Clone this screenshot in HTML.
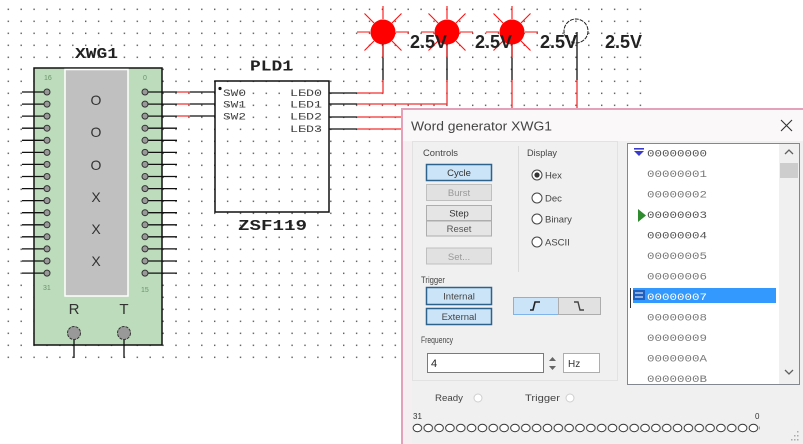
<!DOCTYPE html>
<html><head><meta charset="utf-8"><style>
html,body{margin:0;padding:0;background:#fff;}
svg{display:block;}
</style></head><body>
<svg width="803" height="444" viewBox="0 0 803 444" xmlns="http://www.w3.org/2000/svg" font-family="'Liberation Sans', sans-serif">
<defs>
<pattern id="g" x="7.6" y="8.6" width="12.9" height="12" patternUnits="userSpaceOnUse"><rect width="1.4" height="1.4" fill="#555"/></pattern>
<pattern id="ch" x="412" y="422" width="10.84" height="12" patternUnits="userSpaceOnUse"><ellipse cx="5.4" cy="6" rx="4.3" ry="3.8" fill="#fff" stroke="#333" stroke-width="1"/></pattern>
<g id="pl"><line x1="22" y1="0" x2="44" y2="0" stroke="#111" stroke-width="1.3"/><circle cx="47" cy="0" r="3" fill="#999" stroke="#333" stroke-width="1"/></g>
<g id="pr"><line x1="148" y1="0" x2="177" y2="0" stroke="#111" stroke-width="1.3"/><circle cx="145" cy="0" r="3" fill="#999" stroke="#333" stroke-width="1"/></g>
</defs>
<rect width="803" height="444" fill="#fff"/>
<rect x="0" y="0" width="648" height="362" fill="url(#g)"/>

<!-- XWG1 -->
<text x="75" y="58" font-family="'Liberation Mono', monospace" font-weight="bold" font-size="15" textLength="43" lengthAdjust="spacingAndGlyphs" fill="#222">XWG1</text>
<rect x="34" y="68" width="128" height="277" fill="#bcdcbc" stroke="#111" stroke-width="1.5"/>
<rect x="65" y="69.5" width="63" height="226.5" fill="#c0c0c0" stroke="#fff" stroke-width="1.5"/>
<g font-size="7" fill="#6a946a">
<text x="44" y="80">16</text><text x="143" y="80">0</text>
<text x="43" y="290">31</text><text x="141" y="292">15</text>
</g>
<g font-size="14" fill="#333" text-anchor="middle">
<text x="96" y="105">O</text><text x="96" y="137">O</text><text x="96" y="170">O</text>
<text x="96" y="202">X</text><text x="96" y="234">X</text><text x="96" y="266">X</text>
</g>
<g font-size="15" fill="#333" text-anchor="middle"><text x="74" y="314">R</text><text x="124" y="314">T</text></g>
<line x1="74" y1="339" x2="74" y2="358" stroke="#111" stroke-width="1.3"/>
<line x1="124" y1="339" x2="124" y2="358" stroke="#111" stroke-width="1.3"/>
<circle cx="74" cy="333" r="6.5" fill="#999" stroke="#333" stroke-width="1" stroke-dasharray="3 1"/>
<circle cx="124" cy="333" r="6.5" fill="#999" stroke="#333" stroke-width="1" stroke-dasharray="3 1"/>
<use href="#pl" transform="translate(0,92)"/><use href="#pl" transform="translate(0,104.1)"/><use href="#pl" transform="translate(0,116.1)"/><use href="#pl" transform="translate(0,128.2)"/>
<use href="#pl" transform="translate(0,140.3)"/><use href="#pl" transform="translate(0,152.4)"/><use href="#pl" transform="translate(0,164.4)"/><use href="#pl" transform="translate(0,176.5)"/>
<use href="#pl" transform="translate(0,188.6)"/><use href="#pl" transform="translate(0,200.6)"/><use href="#pl" transform="translate(0,212.7)"/><use href="#pl" transform="translate(0,224.8)"/>
<use href="#pl" transform="translate(0,236.8)"/><use href="#pl" transform="translate(0,248.9)"/><use href="#pl" transform="translate(0,261)"/><use href="#pl" transform="translate(0,273.1)"/>
<use href="#pr" transform="translate(0,92)"/><use href="#pr" transform="translate(0,104.1)"/><use href="#pr" transform="translate(0,116.1)"/><use href="#pr" transform="translate(0,128.2)"/>
<use href="#pr" transform="translate(0,140.3)"/><use href="#pr" transform="translate(0,152.4)"/><use href="#pr" transform="translate(0,164.4)"/><use href="#pr" transform="translate(0,176.5)"/>
<use href="#pr" transform="translate(0,188.6)"/><use href="#pr" transform="translate(0,200.6)"/><use href="#pr" transform="translate(0,212.7)"/><use href="#pr" transform="translate(0,224.8)"/>
<use href="#pr" transform="translate(0,236.8)"/><use href="#pr" transform="translate(0,248.9)"/><use href="#pr" transform="translate(0,261)"/><use href="#pr" transform="translate(0,273.1)"/>

<!-- wires XWG1 -> PLD -->
<g stroke-width="1.3" fill="none">
<path d="M177 92H190M177 104H190M177 116H190" stroke="#f03030"/>
<path d="M190 92H215M190 104H215M190 116H215" stroke="#111"/>
</g>

<!-- PLD1 -->
<text x="250" y="70.5" font-family="'Liberation Mono', monospace" font-weight="bold" font-size="15" textLength="43" lengthAdjust="spacingAndGlyphs" fill="#222">PLD1</text>
<rect x="215" y="81" width="114" height="131" fill="none" stroke="#111" stroke-width="1.5"/>
<text x="238" y="230" font-family="'Liberation Mono', monospace" font-weight="bold" font-size="15" textLength="69" lengthAdjust="spacingAndGlyphs" fill="#222">ZSF119</text>
<circle cx="220" cy="88.5" r="1.6" fill="#111"/>
<g font-family="'Liberation Mono', monospace" font-size="10" fill="#444">
<text x="223" y="96" textLength="23" lengthAdjust="spacingAndGlyphs">SW0</text>
<text x="223" y="107.5" textLength="23" lengthAdjust="spacingAndGlyphs">SW1</text>
<text x="223" y="119.5" textLength="23" lengthAdjust="spacingAndGlyphs">SW2</text>
<text x="290" y="96" textLength="32" lengthAdjust="spacingAndGlyphs">LED0</text>
<text x="290" y="107.5" textLength="32" lengthAdjust="spacingAndGlyphs">LED1</text>
<text x="290" y="119.5" textLength="32" lengthAdjust="spacingAndGlyphs">LED2</text>
<text x="290" y="132" textLength="32" lengthAdjust="spacingAndGlyphs">LED3</text>
</g>

<!-- PLD outputs -->
<g stroke-width="1.3" fill="none">
<path d="M329 93H357M329 104H357M329 117H357M329 129H357" stroke="#111"/>
<path d="M357 93H383V80M357 104H447V80M357 117H402M357 129H402M512 108V80M577 108V80" stroke="#f03030"/>
<path d="M383 80V32M447 80V32M512 80V32M577 80V32" stroke="#111"/>
</g>

<!-- LEDs -->
<g stroke="#ff1010" stroke-width="1.1">
<path d="M383 19V6M383 45V58M370 32H357M396 32H409M374 23L364.5 13.5M392 23L401.5 13.5M374 41L364.5 50.5M392 41L401.5 50.5"/>
<path d="M447 19V6M447 45V58M434 32H421M460 32H473M438 23L428.5 13.5M456 23L465.5 13.5M438 41L428.5 50.5M456 41L465.5 50.5"/>
<path d="M512 19V6M512 45V58M499 32H486M525 32H538M503 23L493.5 13.5M521 23L530.5 13.5M503 41L493.5 50.5M521 41L530.5 50.5"/>
</g>
<circle cx="383" cy="32" r="12.5" fill="#ff0000"/>
<circle cx="447" cy="32" r="12.5" fill="#ff0000"/>
<circle cx="512" cy="32" r="12.5" fill="#ff0000"/>
<circle cx="576" cy="31" r="12" fill="none" stroke="#222" stroke-width="1" stroke-dasharray="4 1"/>
<g font-weight="bold" font-size="18" fill="#222">
<text x="410" y="48" textLength="37" lengthAdjust="spacingAndGlyphs">2.5V</text>
<text x="475" y="48" textLength="37" lengthAdjust="spacingAndGlyphs">2.5V</text>
<text x="540" y="48" textLength="37" lengthAdjust="spacingAndGlyphs">2.5V</text>
<text x="605" y="48" textLength="37" lengthAdjust="spacingAndGlyphs">2.5V</text>
</g>

<!-- Dialog -->
<rect x="402" y="109" width="402" height="336" fill="#f0f0f0" stroke="#e3a2b9" stroke-width="2"/>
<rect x="403" y="110" width="400" height="31" fill="#fbf8f9"/>
<rect x="403" y="141" width="9" height="303" fill="#f6eff2"/>
<text x="411" y="130.5" font-size="12.5" fill="#444" textLength="141" lengthAdjust="spacingAndGlyphs">Word generator XWG1</text>
<path d="M781 120L792 131M792 120L781 131" stroke="#333" stroke-width="1.1"/>

<rect x="412.5" y="141.5" width="205" height="239" fill="#f0f0f0" stroke="#e2e2e2"/>
<line x1="518.5" y1="146" x2="518.5" y2="272" stroke="#dadada"/>

<g font-size="9" fill="#444">
<text x="423" y="156" textLength="35" lengthAdjust="spacingAndGlyphs">Controls</text>
<text x="527" y="156" textLength="30" lengthAdjust="spacingAndGlyphs">Display</text>
<text x="421" y="283" textLength="24" lengthAdjust="spacingAndGlyphs">Trigger</text>
<text x="421" y="343" textLength="32" lengthAdjust="spacingAndGlyphs">Frequency</text>
</g>

<!-- buttons -->
<rect x="426.5" y="164.5" width="65" height="16" fill="#cce4f7" stroke="#2c628b" stroke-width="1.5"/>
<rect x="426.5" y="184.5" width="65" height="16" fill="#e1e1e1" stroke="#bfbfbf"/>
<rect x="426.5" y="205.5" width="65" height="15" fill="#e5e5e5" stroke="#adadad"/>
<rect x="426.5" y="221" width="65" height="15" fill="#e5e5e5" stroke="#adadad"/>
<rect x="426.5" y="248" width="65" height="16" fill="#e1e1e1" stroke="#bfbfbf"/>
<g font-size="9.5" text-anchor="middle">
<text x="459" y="176" fill="#333">Cycle</text>
<text x="459" y="196" fill="#999">Burst</text>
<text x="459" y="216.5" fill="#333">Step</text>
<text x="459" y="232" fill="#555">Reset</text>
<text x="459" y="260" fill="#999">Set...</text>
</g>

<!-- radios -->
<g fill="#fff" stroke="#444" stroke-width="1">
<circle cx="537" cy="175" r="5"/><circle cx="537" cy="198" r="5"/><circle cx="537" cy="219" r="5"/><circle cx="537" cy="242" r="5"/>
</g>
<circle cx="537" cy="175" r="2.6" fill="#333"/>
<g font-size="9.5" fill="#444">
<text x="545" y="178.5">Hex</text><text x="545" y="201.5">Dec</text><text x="545" y="222.5">Binary</text><text x="545" y="245.5">ASCII</text>
</g>

<!-- trigger buttons -->
<rect x="426.5" y="287.5" width="65" height="17" fill="#cce4f7" stroke="#2c628b" stroke-width="1.5"/>
<rect x="426.5" y="308.5" width="65" height="16" fill="#cce4f7" stroke="#2c628b" stroke-width="1.5"/>
<g font-size="9.5" text-anchor="middle" fill="#444">
<text x="459" y="299.5">Internal</text><text x="459" y="320">External</text>
</g>
<rect x="513.5" y="297.5" width="45" height="17" fill="#cce4f7" stroke="#7eb4ea"/>
<rect x="558.5" y="297.5" width="42" height="17" fill="#e1e1e1" stroke="#adadad"/>
<path d="M530 310H533L535 302H540" stroke="#222" stroke-width="1.6" fill="none"/>
<path d="M574 302H578L580 310H584" stroke="#444" stroke-width="1.4" fill="none"/>

<!-- frequency -->
<rect x="427.5" y="353.5" width="116" height="19" fill="#fff" stroke="#7a7a7a"/>
<text x="431" y="367" font-size="11" fill="#222">4</text>
<path d="M549 361L552.5 357L556 361ZM549 366L552.5 370L556 366Z" fill="#666"/>
<rect x="563.5" y="353.5" width="36" height="19" fill="#fff" stroke="#adadad"/>
<text x="568" y="367" font-size="10" fill="#333">Hz</text>

<!-- ready / trigger -->
<g font-size="9" fill="#444">
<text x="435" y="401" textLength="28" lengthAdjust="spacingAndGlyphs">Ready</text>
<text x="525" y="401" textLength="35" lengthAdjust="spacingAndGlyphs">Trigger</text>
</g>
<circle cx="478" cy="398" r="4" fill="#fff" stroke="#cfcfcf"/>
<circle cx="570" cy="398" r="4" fill="#fff" stroke="#cfcfcf"/>
<text x="413" y="419" font-size="8" fill="#333">31</text>
<text x="755" y="419" font-size="8" fill="#333">0</text>
<rect x="412" y="422" width="348" height="12" fill="url(#ch)"/>
<g fill="#aaa"><rect x="797" y="431" width="1.5" height="1.5"/><rect x="794" y="435" width="1.5" height="1.5"/><rect x="797" y="435" width="1.5" height="1.5"/><rect x="791" y="439" width="1.5" height="1.5"/><rect x="794" y="439" width="1.5" height="1.5"/><rect x="797" y="439" width="1.5" height="1.5"/></g>

<!-- list box -->
<rect x="627.5" y="143.5" width="172" height="241" fill="#fff" stroke="#828790"/>
<rect x="779" y="144" width="20" height="240" fill="#f0f0f0"/>
<rect x="780" y="163" width="18" height="15" fill="#cdcdcd"/>
<path d="M785 154L789 150L793 154" stroke="#606060" stroke-width="1.3" fill="none"/>
<path d="M785 370L789 374L793 370" stroke="#606060" stroke-width="1.3" fill="none"/>
<rect x="633" y="288" width="143" height="15" fill="#3399ff"/>
<rect x="633" y="290" width="12" height="10" fill="#1f5fbf"/>
<path d="M635 293H643M635 297H643" stroke="#fff" stroke-width="1"/>
<line x1="630.5" y1="288" x2="630.5" y2="308" stroke="#333" stroke-width="1"/>
<rect x="634" y="148" width="10" height="1.6" fill="#3a3acb"/>
<path d="M634 151H644L639 156Z" fill="#3a3acb"/>
<path d="M638 209L646 215.5L638 222Z" fill="#2e8b2e"/>
<g font-family="'Liberation Mono', monospace" font-size="10.5" fill="#7a7a7a">
<text x="647" y="156.5" textLength="60" lengthAdjust="spacingAndGlyphs" fill="#555">00000000</text>
<text x="647" y="177" textLength="60" lengthAdjust="spacingAndGlyphs">00000001</text>
<text x="647" y="197.5" textLength="60" lengthAdjust="spacingAndGlyphs">00000002</text>
<text x="647" y="218" textLength="60" lengthAdjust="spacingAndGlyphs" fill="#555">00000003</text>
<text x="647" y="238.5" textLength="60" lengthAdjust="spacingAndGlyphs" fill="#555">00000004</text>
<text x="647" y="259" textLength="60" lengthAdjust="spacingAndGlyphs">00000005</text>
<text x="647" y="279.5" textLength="60" lengthAdjust="spacingAndGlyphs">00000006</text>
<text x="647" y="300" textLength="60" lengthAdjust="spacingAndGlyphs" fill="#fff">00000007</text>
<text x="647" y="320.5" textLength="60" lengthAdjust="spacingAndGlyphs">00000008</text>
<text x="647" y="341" textLength="60" lengthAdjust="spacingAndGlyphs">00000009</text>
<text x="647" y="361.5" textLength="60" lengthAdjust="spacingAndGlyphs">0000000A</text>
<text x="647" y="382" textLength="60" lengthAdjust="spacingAndGlyphs">0000000B</text>
</g>
</svg>
</body></html>
